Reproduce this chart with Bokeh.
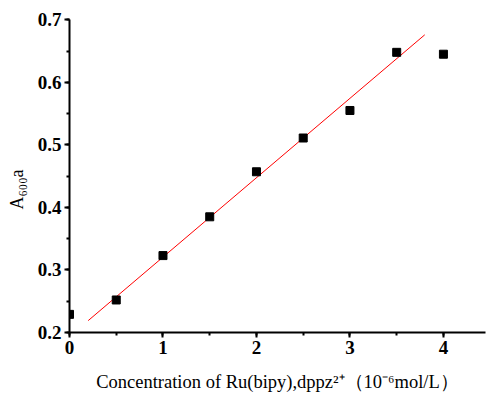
from bokeh.plotting import figure
from bokeh.models import Range1d, SingleIntervalTicker, ColumnDataSource
from bokeh.embed import file_html
from bokeh.resources import INLINE

# data
conc = [0.0, 0.5, 1.0, 1.5, 2.0, 2.5, 3.0, 3.5, 4.0]
absorb = [0.229, 0.252, 0.323, 0.385, 0.457, 0.511, 0.555, 0.648, 0.645]
fit_x = [0.2, 3.8]
fit_y = [0.219, 0.676]
x_label = "Concentration of Ru(bipy),dppz\u00b2\u207a\uff0810\u207b\u2076mol/L\uff09"
y_label = "A\u2086\u2080\u2080a" + "\u00a0" * 6

FONT = "Liberation Serif"

p = figure(width=486, height=396, output_backend="svg", toolbar_location=None,
           x_range=Range1d(0, 4.45), y_range=Range1d(0.2, 0.7005))
p.min_border_left = 69
p.min_border_right = 1
p.min_border_top = 19
p.min_border_bottom = 64
p.outline_line_color = None
p.xgrid.visible = False
p.ygrid.visible = False
p.background_fill_color = "white"
p.border_fill_color = "white"

p.line(fit_x, fit_y, line_color="#ff0000", line_width=1)
src = ColumnDataSource(dict(x=conc, y=absorb))
p.scatter("x", "y", source=src, marker="square", size=8, fill_color="black", line_color="black")

p.xaxis.ticker = SingleIntervalTicker(interval=1, num_minor_ticks=2)
p.yaxis.ticker = SingleIntervalTicker(interval=0.1, num_minor_ticks=2)
for ax in (p.xaxis, p.yaxis):
    ax.axis_line_width = 2
    ax.axis_line_color = "black"
    ax.major_tick_line_width = 2
    ax.minor_tick_line_width = 2
    ax.major_tick_out = 5
    ax.major_tick_in = 0
    ax.minor_tick_out = 3
    ax.minor_tick_in = 0
    ax.major_label_text_font = FONT
    ax.major_label_text_font_style = "bold"
    ax.major_label_text_font_size = "19px"
    ax.major_label_text_color = "black"
    ax.major_label_standoff = 3
    ax.axis_label_text_font = FONT
    ax.axis_label_text_font_style = "normal"
    ax.axis_label_text_color = "black"

p.xaxis.axis_label = x_label
p.xaxis.axis_label_text_font_size = "18.5px"
p.xaxis.axis_label_standoff = 15
p.yaxis.axis_label = y_label
p.yaxis.axis_label_text_font_size = "18px"
p.yaxis.axis_label_standoff = 8

open("out.html", "w").write(file_html(p, INLINE))
